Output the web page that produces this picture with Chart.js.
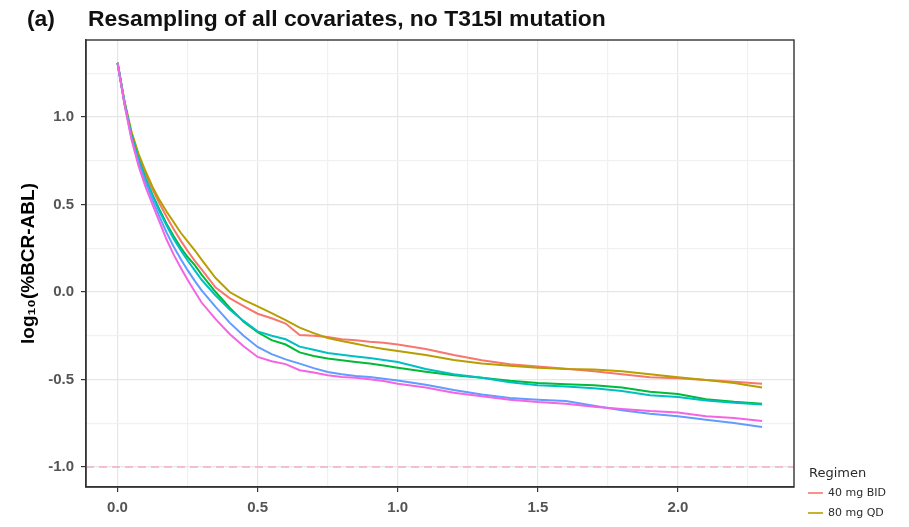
<!DOCTYPE html>
<html><head><meta charset="utf-8">
<script src="https://cdn.jsdelivr.net/npm/chart.js@4/dist/chart.umd.min.js"></script>
<style>html,body{margin:0;padding:0;background:#fff}</style>
</head><body>
<canvas id="c" width="909" height="527"></canvas>
<script>
// ---- text ----
const panelTag = "(a)";
const titleText = "Resampling of all covariates, no T315I mutation";
const yAxisTitle = "log\u2081\u2080(%BCR-ABL)";
const legendTitle = "Regimen";

// ---- data ----
const timeYears = [0,0.025,0.05,0.075,0.1,0.125,0.15,0.175,0.2,0.225,0.25,0.275,0.3,0.35,0.4,0.45,0.5,0.55,0.6,0.65,0.7,0.75,0.8,0.85,0.9,0.95,1.0,1.1,1.2,1.3,1.4,1.5,1.6,1.7,1.8,1.9,2.0,2.1,2.2,2.3];
const seriesNames = ["40 mg BID","80 mg QD","Regimen 3","Regimen 4","Regimen 5","Regimen 6"];
const legendShown = ["40 mg BID","80 mg QD"];
const bid40 = [1.31,1.085,0.905,0.78,0.675,0.585,0.505,0.43,0.36,0.295,0.235,0.18,0.13,0.025,-0.035,-0.08,-0.124,-0.15,-0.18,-0.245,-0.25,-0.257,-0.27,-0.275,-0.284,-0.29,-0.3,-0.325,-0.36,-0.39,-0.412,-0.425,-0.438,-0.452,-0.47,-0.487,-0.492,-0.503,-0.513,-0.524];
const qd80 = [1.31,1.09,0.915,0.79,0.69,0.6,0.525,0.46,0.4,0.34,0.29,0.24,0.185,0.08,0.0,-0.045,-0.082,-0.12,-0.16,-0.203,-0.235,-0.263,-0.28,-0.295,-0.312,-0.325,-0.337,-0.36,-0.388,-0.408,-0.421,-0.432,-0.44,-0.442,-0.452,-0.47,-0.487,-0.503,-0.52,-0.545];
const reg3 = [1.31,1.08,0.895,0.76,0.65,0.555,0.47,0.39,0.32,0.255,0.2,0.155,0.1,0.0,-0.09,-0.17,-0.23,-0.275,-0.3,-0.345,-0.365,-0.38,-0.39,-0.4,-0.409,-0.42,-0.432,-0.455,-0.475,-0.49,-0.507,-0.52,-0.527,-0.532,-0.545,-0.57,-0.583,-0.612,-0.627,-0.638];
const reg4 = [1.31,1.08,0.89,0.755,0.645,0.55,0.46,0.38,0.305,0.24,0.18,0.125,0.07,-0.02,-0.1,-0.165,-0.225,-0.25,-0.27,-0.312,-0.33,-0.348,-0.358,-0.368,-0.377,-0.388,-0.4,-0.44,-0.47,-0.49,-0.515,-0.533,-0.54,-0.55,-0.565,-0.59,-0.6,-0.62,-0.633,-0.642];
const reg5 = [1.31,1.075,0.88,0.74,0.625,0.525,0.43,0.34,0.26,0.19,0.125,0.065,0.01,-0.085,-0.175,-0.25,-0.314,-0.355,-0.385,-0.409,-0.435,-0.457,-0.47,-0.48,-0.486,-0.495,-0.505,-0.53,-0.56,-0.585,-0.606,-0.615,-0.623,-0.65,-0.675,-0.695,-0.71,-0.73,-0.748,-0.771];
const reg6 = [1.31,1.07,0.87,0.72,0.6,0.5,0.4,0.3,0.215,0.14,0.07,0.005,-0.06,-0.155,-0.24,-0.31,-0.371,-0.395,-0.412,-0.447,-0.46,-0.475,-0.485,-0.49,-0.499,-0.508,-0.524,-0.545,-0.575,-0.595,-0.615,-0.629,-0.638,-0.655,-0.668,-0.68,-0.688,-0.71,-0.72,-0.737];
const thresholdY = -1.0;

// ---- axis ----
const xMin = -0.1125, xMax = 2.414, yMin = -1.114, yMax = 1.44;
const xTickValues = [0,0.25,0.5,0.75,1.0,1.25,1.5,1.75,2.0,2.25];
const yTickValues = [-1.0,-0.75,-0.5,-0.25,0,0.25,0.5,0.75,1.0,1.25];

const colors = ["#F8766D","#B79F00","#00BA38","#00BFC4","#619CFF","#F564E3"];
const allSeries = [bid40, qd80, reg3, reg4, reg5, reg6];

const isMajor = v => Math.abs(v*2 - Math.round(v*2)) < 1e-6;

const datasets = allSeries.map((arr, i) => ({
  label: seriesNames[i],
  data: timeYears.map((x, j) => ({x: x, y: arr[j]})),
  borderColor: colors[i],
  borderWidth: 2,
  pointRadius: 0,
  tension: 0,
  fill: false,
  order: 5 - i
}));
datasets.push({
  label: "threshold",
  data: [{x: xMin, y: thresholdY}, {x: xMax, y: thresholdY}],
  borderColor: "#F7AFC0",
  borderWidth: 1.5,
  borderDash: [8, 5],
  pointRadius: 0,
  order: 20
});

const fontFam = '"Liberation Sans", Arial, sans-serif';

const decor = {
  id: 'decor',
  afterDatasetsDraw(chart) {
    const {ctx, chartArea: a} = chart;
    ctx.save();
    ctx.strokeStyle = '#333';
    ctx.lineWidth = 1.4;
    ctx.strokeRect(a.left, a.top, a.right - a.left, a.bottom - a.top);
    ctx.restore();
  },
  afterDraw(chart) {
    const {ctx} = chart;
    ctx.save();
    ctx.fillStyle = '#111';
    ctx.textBaseline = 'alphabetic';
    ctx.font = 'bold 22.9px ' + fontFam;
    ctx.fillText(panelTag, 27, 26);
    ctx.fillText(titleText, 88, 26);
    // legend
    ctx.font = '13px "DejaVu Sans", sans-serif';
    ctx.fillStyle = '#2b2b2b';
    ctx.textBaseline = 'middle';
    ctx.fillText(legendTitle, 809, 474);
    ctx.font = '11px "DejaVu Sans", sans-serif';
    legendShown.forEach((name, k) => {
      const idx = seriesNames.indexOf(name);
      const yy = 493 + k * 20;
      ctx.strokeStyle = colors[idx];
      ctx.lineWidth = 1.6;
      ctx.beginPath(); ctx.moveTo(808, yy); ctx.lineTo(823, yy); ctx.stroke();
      ctx.fillStyle = '#2b2b2b';
      ctx.fillText(name, 828, yy);
    });
    ctx.restore();
  }
};

new Chart(document.getElementById('c'), {
  type: 'line',
  data: {datasets},
  plugins: [decor],
  options: {
    responsive: false,
    animation: false,
    devicePixelRatio: 1,
    layout: {padding: {top: 40, right: 115, left: 0, bottom: 0}},
    plugins: {legend: {display: false}, tooltip: {enabled: false}, title: {display: false}},
    scales: {
      x: {
        type: 'linear', min: xMin, max: xMax,
        afterBuildTicks: s => { s.ticks = xTickValues.map(v => ({value: v})); },
        afterFit: s => { s.height = 40; },
        ticks: {
          autoSkip: false, maxRotation: 0, padding: 7,
          color: '#555', font: {family: fontFam, size: 15, weight: 'bold'},
          callback: v => isMajor(v) ? v.toFixed(1) : ''
        },
        grid: {
          color: c => isMajor(c.tick.value) ? '#e6e6e6' : '#f1f1f1',
          tickColor: c => isMajor(c.tick.value) ? '#333' : 'rgba(0,0,0,0)',
          tickLength: 5, lineWidth: 1.2
        },
        border: {display: true, color: '#333', width: 1.4}
      },
      y: {
        type: 'linear', min: yMin, max: yMax,
        afterBuildTicks: s => { s.ticks = yTickValues.map(v => ({value: v})); },
        afterFit: s => { s.width = 86; },
        title: {display: true, text: yAxisTitle, color: '#000', font: {family: fontFam, size: 19, weight: 'bold'}, padding: {top: 17, bottom: 0}},
        ticks: {
          autoSkip: false, padding: 7,
          color: '#555', font: {family: fontFam, size: 15, weight: 'bold'},
          callback: v => isMajor(v) ? v.toFixed(1) : ''
        },
        grid: {
          color: c => isMajor(c.tick.value) ? '#e6e6e6' : '#f1f1f1',
          tickColor: c => isMajor(c.tick.value) ? '#333' : 'rgba(0,0,0,0)',
          tickLength: 5, lineWidth: 1.2
        },
        border: {display: true, color: '#333', width: 1.4}
      }
    }
  }
});
</script>
</body></html>
